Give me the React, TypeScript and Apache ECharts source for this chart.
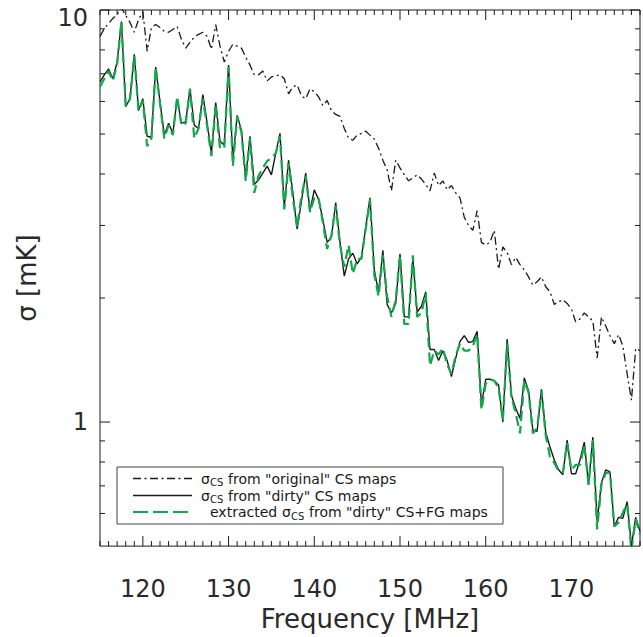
import React, { useEffect, useRef } from 'react';
import * as echarts from 'echarts';

const freqs = [
  115, 115.5, 116, 116.5, 117, 117.5, 118, 118.5, 119, 119.5,
  120, 120.5, 121, 121.5, 122, 122.5, 123, 123.5, 124, 124.5,
  125, 125.5, 126, 126.5, 127, 127.5, 128, 128.5, 129, 129.5,
  130, 130.5, 131, 131.5, 132, 132.5, 133, 133.5, 134, 134.5,
  135, 135.5, 136, 136.5, 137, 137.5, 138, 138.5, 139, 139.5,
  140, 140.5, 141, 141.5, 142, 142.5, 143, 143.5, 144, 144.5,
  145, 145.5, 146, 146.5, 147, 147.5, 148, 148.5, 149, 149.5,
  150, 150.5, 151, 151.5, 152, 152.5, 153, 153.5, 154, 154.5,
  155, 155.5, 156, 156.5, 157, 157.5, 158, 158.5, 159, 159.5,
  160, 160.5, 161, 161.5, 162, 162.5, 163, 163.5, 164, 164.5,
  165, 165.5, 166, 166.5, 167, 167.5, 168, 168.5, 169, 169.5,
  170, 170.5, 171, 171.5, 172, 172.5, 173, 173.5, 174, 174.5,
  175, 175.5, 176, 176.5, 177, 177.5, 178,
];

const sigmaOriginal = [
  8.63, 9.02, 9.27, 9.54, 9.75, 10.13, 9.70, 9.33, 8.83, 9.48,
  9.91, 7.94, 9.07, 9.22, 9.07, 8.87, 8.83, 8.97, 9.12, 8.49,
  8.08, 8.35, 8.59, 8.73, 8.83, 8.63, 8.03, 9.22, 8.17, 7.48,
  7.94, 8.26, 8.17, 8.08, 7.69, 7.35, 6.96, 6.96, 7.11, 6.73,
  6.88, 6.92, 6.96, 6.81, 6.26, 6.51, 6.58, 6.19, 6.09, 6.44,
  6.33, 6.16, 5.86, 6.03, 5.70, 5.58, 5.52, 5.16, 4.88, 4.83,
  4.97, 5.02, 5.08, 4.97, 4.86, 4.62, 4.32, 4.09, 3.64, 4.32,
  4.14, 3.98, 3.85, 3.91, 3.98, 3.89, 3.77, 3.64, 4.02, 3.75,
  3.85, 3.66, 3.75, 3.60, 3.50, 3.14, 3.00, 2.92, 3.26, 2.73,
  2.69, 2.73, 2.92, 2.35, 2.66, 2.58, 2.41, 2.51, 2.41, 2.34,
  2.25, 2.15, 2.19, 2.25, 2.13, 2.07, 1.93, 1.96, 1.98, 1.94,
  1.88, 1.75, 1.78, 1.84, 1.80, 1.76, 1.43, 1.80, 1.71, 1.62,
  1.55, 1.63, 1.53, 1.31, 1.13, 1.51, 1.49,
];

const sigmaDirty = [
  6.69, 6.96, 7.19, 6.81, 7.48, 9.38, 5.83, 6.09, 7.81, 5.70,
  6.09, 4.94, 4.91, 7.27, 5.99, 4.97, 5.31, 5.02, 6.09, 5.31,
  5.36, 6.44, 5.25, 5.16, 6.23, 5.31, 4.49, 5.96, 4.80, 4.70,
  7.35, 4.30, 5.55, 5.11, 3.91, 4.94, 3.77, 3.87, 4.02, 4.18,
  3.98, 4.49, 5.02, 3.33, 4.32, 3.60, 2.94, 3.43, 4.02, 3.26,
  3.66, 3.47, 3.10, 2.73, 2.81, 3.41, 2.73, 2.26, 2.49, 2.57,
  2.42, 2.51, 2.97, 3.50, 2.34, 2.06, 2.61, 1.93, 1.84, 1.94,
  2.56, 1.80, 1.80, 2.49, 1.85, 1.91, 2.07, 1.50, 1.50, 1.41,
  1.49, 1.41, 1.29, 1.43, 1.57, 1.62, 1.56, 1.57, 1.66, 1.10,
  1.27, 1.27, 1.26, 1.23, 1.00, 1.59, 1.16, 1.08, 1.02, 1.28,
  1.19, 0.955, 0.950, 1.20, 0.945, 0.870, 0.809, 0.766, 0.745, 0.904,
  0.749, 0.749, 0.809, 0.894, 0.705, 0.919, 0.574, 0.712, 0.766, 0.757,
  0.558, 0.587, 0.584, 0.641, 0.500, 0.587, 0.543,
];

const sigmaExtracted = [
  6.51, 6.81, 7.11, 6.73, 7.39, 9.38, 5.83, 6.09, 7.73, 5.70,
  6.03, 4.67, 4.88, 7.27, 5.93, 4.88, 5.25, 4.97, 6.16, 5.25,
  5.31, 6.44, 4.88, 5.16, 6.09, 5.22, 4.42, 5.89, 4.62, 4.62,
  7.27, 4.18, 5.52, 5.05, 3.85, 4.88, 3.60, 3.96, 4.14, 4.30,
  4.37, 4.49, 4.94, 3.28, 4.25, 3.50, 2.97, 3.54, 3.96, 3.23,
  3.50, 3.50, 3.05, 2.63, 2.84, 3.35, 2.69, 2.38, 2.69, 2.29,
  2.49, 2.49, 2.94, 3.47, 2.28, 2.02, 2.54, 2.02, 1.80, 1.98,
  2.54, 1.73, 1.73, 2.54, 1.80, 1.84, 2.05, 1.37, 1.49, 1.46,
  1.51, 1.38, 1.31, 1.45, 1.55, 1.49, 1.49, 1.53, 1.63, 1.07,
  1.24, 1.27, 1.26, 1.21, 1.01, 1.55, 1.15, 1.05, 0.939, 1.26,
  1.18, 0.939, 0.966, 1.19, 0.929, 0.823, 0.796, 0.761, 0.753, 0.889,
  0.766, 0.787, 0.787, 0.879, 0.705, 0.904, 0.549, 0.705, 0.753, 0.753,
  0.558, 0.571, 0.603, 0.631, 0.489, 0.581, 0.534,
];

const xLabelValues = [120, 130, 140, 150, 160, 170];
const xMinorTicks = [
  115, 116, 117, 118, 119, 121, 122, 123, 124, 125, 126, 127, 128, 129,
  131, 132, 133, 134, 135, 136, 137, 138, 139, 141, 142, 143, 144, 145, 146, 147, 148, 149,
  151, 152, 153, 154, 155, 156, 157, 158, 159, 161, 162, 163, 164, 165, 166, 167, 168, 169,
  171, 172, 173, 174, 175, 176, 177, 178,
];
const yMajorTicks = [1, 10];
const yMinorTicks = [0.6, 0.7, 0.8, 0.9, 2, 3, 4, 5, 6, 7, 8, 9];

const legendRows = [
  { lead: '', rest: 'from "original" CS maps' },
  { lead: 'extracted', rest: 'from "dirty" CS maps' },
  { lead: 'extracted', rest: 'from "dirty" CS+FG maps' },
];

export default function App() {
  const ref = useRef<HTMLDivElement>(null);

  useEffect(() => {
    if (!ref.current) return;
    const chart = echarts.init(ref.current, null, { renderer: 'svg' });
    const font = 'DejaVu Sans';
    const ink = '#1a1a1a';
    const labelInk = '#2a2a2a';
    const green = '#13a64b';
    const pair = (ys: number[]) => freqs.map((f, i) => [f, ys[i]]);

    const tickData: number[][] = [
      ...xLabelValues.map((f) => [f, 1, 10, 0]),
      ...xMinorTicks.map((f) => [f, 1, 5, 0]),
      ...yMajorTicks.map((v) => [115, v, 10, 1]),
      ...yMinorTicks.map((v) => [115, v, 5, 1]),
    ];

    const rowY = [478.5, 495.5, 512];
    const lineX1 = 133;
    const lineX2 = 192;
    const textX = 201;
    const fs = 14;
    const subFs = 10;

    const legendTexts: any[] = [];
    legendRows.forEach((row, i) => {
      const hasLead = i === 2;
      let x = textX;
      if (hasLead) {
        legendTexts.push({
          type: 'text', x: 210, y: rowY[i], z: 20,
          style: { text: row.lead, fontSize: fs, fontFamily: font, fill: ink, verticalAlign: 'middle' },
        });
        x = 282;
      }
      legendTexts.push({
        type: 'text', x, y: rowY[i], z: 20,
        style: { text: 'σ', fontSize: fs, fontFamily: font, fill: ink, verticalAlign: 'middle' },
      });
      legendTexts.push({
        type: 'text', x: x + 9, y: rowY[i] + 4, z: 20,
        style: { text: 'CS', fontSize: subFs, fontFamily: font, fill: ink, verticalAlign: 'middle' },
      });
      legendTexts.push({
        type: 'text', x: x + 27, y: rowY[i], z: 20,
        style: { text: row.rest, fontSize: fs, fontFamily: font, fill: ink, verticalAlign: 'middle' },
      });
    });

    const option: any = {
      animation: false,
      backgroundColor: '#fff',
      grid: {
        left: 100,
        right: 1,
        top: 10,
        bottom: 85,
        show: true,
        borderColor: ink,
        borderWidth: 1,
        backgroundColor: 'transparent',
      },
      xAxis: {
        type: 'value',
        min: 115,
        max: 178,
        interval: 5,
        axisLine: { show: false },
        axisTick: { show: false },
        splitLine: { show: false },
        axisLabel: {
          formatter: (v: number) => (xLabelValues.includes(v) ? String(v) : ''),
          fontSize: 24,
          fontFamily: font,
          color: labelInk,
          margin: 31,
        },
        name: 'Frequency [MHz]',
        nameLocation: 'middle',
        nameGap: 55,
        nameTextStyle: { fontSize: 26, fontFamily: font, color: labelInk },
      },
      yAxis: {
        type: 'log',
        logBase: 10,
        min: 0.5,
        max: 10,
        axisLine: { show: false },
        axisTick: { show: false },
        splitLine: { show: false },
        axisLabel: {
          formatter: (v: number) =>
            Math.abs(v - 1) < 1e-6 ? '1' : Math.abs(v - 10) < 1e-5 ? '{t|10}' : '',
          fontSize: 24,
          fontFamily: font,
          color: labelInk,
          margin: 12,
          rich: {
            t: { fontSize: 24, fontFamily: font, color: labelInk, padding: [16, 0, 0, 0] },
          },
        },
        name: 'σ [mK]',
        nameLocation: 'middle',
        nameRotate: 90,
        nameGap: 60,
        nameTextStyle: { fontSize: 26, fontFamily: font, color: labelInk },
      },
      series: [
        {
          name: 'original',
          type: 'line',
          data: pair(sigmaOriginal),
          symbol: 'none',
          z: 2,
          lineStyle: { color: ink, width: 1.3, type: [8, 3.5, 2, 3.5] },
        },
        {
          name: 'dirty',
          type: 'line',
          data: pair(sigmaDirty),
          symbol: 'none',
          z: 3,
          lineStyle: { color: ink, width: 1.4 },
        },
        {
          name: 'extracted',
          type: 'line',
          data: pair(sigmaExtracted),
          symbol: 'none',
          z: 4,
          lineStyle: { color: green, width: 2.2, type: [10, 5] },
        },
        {
          name: 'ticks',
          type: 'custom',
          silent: true,
          clip: false,
          z: 10,
          data: tickData,
          renderItem: (params: any, api: any) => {
            const cs = params.coordSys;
            const len = api.value(2);
            const kind = api.value(3);
            const p = api.coord([api.value(0), api.value(1)]);
            const st = { stroke: ink, lineWidth: 1 };
            if (kind === 0) {
              const x = p[0];
              const yb = cs.y + cs.height;
              return {
                type: 'group',
                children: [
                  { type: 'line', shape: { x1: x, y1: yb, x2: x, y2: yb - len }, style: st },
                  { type: 'line', shape: { x1: x, y1: cs.y, x2: x, y2: cs.y + len }, style: st },
                ],
              };
            }
            const y = p[1];
            const xr = cs.x + cs.width;
            return {
              type: 'group',
              children: [
                { type: 'line', shape: { x1: cs.x, y1: y, x2: cs.x + len, y2: y }, style: st },
                { type: 'line', shape: { x1: xr, y1: y, x2: xr - len, y2: y }, style: st },
              ],
            };
          },
        },
      ],
      graphic: [
        {
          type: 'rect',
          z: 19,
          shape: { x: 117, y: 467, width: 386, height: 57 },
          style: { fill: '#fff', stroke: '#444', lineWidth: 1 },
        },
        {
          type: 'line',
          z: 20,
          shape: { x1: lineX1, y1: rowY[0], x2: lineX2, y2: rowY[0] },
          style: { stroke: ink, lineWidth: 1.3, lineDash: [8, 3.5, 2, 3.5] },
        },
        {
          type: 'line',
          z: 20,
          shape: { x1: lineX1, y1: rowY[1], x2: lineX2, y2: rowY[1] },
          style: { stroke: ink, lineWidth: 1.4 },
        },
        {
          type: 'line',
          z: 20,
          shape: { x1: lineX1, y1: rowY[2], x2: lineX2, y2: rowY[2] },
          style: { stroke: green, lineWidth: 2.2, lineDash: [15, 5] },
        },
        ...legendTexts,
      ],
    };

    chart.setOption(option);
    return () => chart.dispose();
  }, []);

  return (
    <div
      ref={ref}
      style={{ position: 'fixed', left: 0, top: 0, width: 643, height: 637, background: '#fff' }}
    />
  );
}
